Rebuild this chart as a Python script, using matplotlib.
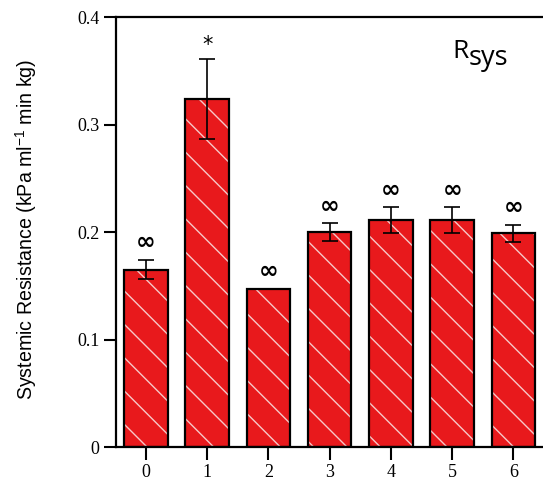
import numpy as np
import matplotlib.pyplot as plt

# mean systemic resistance per time point, with SEM
time_points = ["0", "1", "2", "3", "4", "5", "6"]
r_sys = [0.165, 0.324, 0.147, 0.200, 0.211, 0.211, 0.199]
r_sem = [0.009, 0.037, 0.0, 0.008, 0.012, 0.012, 0.008]
marks = ["∞", "*", "∞", "∞", "∞", "∞", "∞"]

x = np.arange(len(time_points))
red = "#e8191c"

fig = plt.figure(figsize=(5.43, 4.88), dpi=100)
# axes run past the right edge of the figure
ax = fig.add_axes([0.2136, 0.084, 0.90, 0.881])

plt.rcParams["hatch.linewidth"] = 1.0
ax.bar(x, r_sys, width=0.71, color=red, edgecolor="#f7c8c8",
       hatch="\\", linewidth=0, zorder=2)
ax.bar(x, r_sys, width=0.71, fill=False, edgecolor="black",
       linewidth=1.6, zorder=3)
ax.errorbar(x, r_sys, yerr=r_sem, fmt="none", ecolor="black",
            elinewidth=1.2, capsize=6, capthick=1.2, zorder=4)

for xi, yi, ei, m in zip(x, r_sys, r_sem, marks):
    if m == "*":
        ax.annotate(m, (xi, yi + ei), xytext=(0, 3), textcoords="offset points",
                    ha="center", va="bottom", fontsize=15,
                    family="DejaVu Sans")
    else:
        ax.annotate(m, (xi, yi + ei), xytext=(0, 4), textcoords="offset points",
                    ha="center", va="bottom", fontsize=17,
                    family="DejaVu Sans", fontweight="bold")

ax.set_xlim(-0.49, 7.49)
ax.set_ylim(0, 0.4)
ax.set_xticks(x)
ax.set_xticklabels(time_points)
ax.set_yticks([0, 0.1, 0.2, 0.3, 0.4])
ax.set_yticklabels(["0", "0.1", "0.2", "0.3", "0.4"])
for lab in ax.get_xticklabels() + ax.get_yticklabels():
    lab.set_family("Liberation Serif")
    lab.set_fontsize(13)
ax.tick_params(direction="out", length=9, width=1.5, pad=3)

for s in ["left", "bottom", "top", "right"]:
    ax.spines[s].set_linewidth(1.6)

ax.set_ylabel("Systemic Resistance (kPa ml$^{\\mathregular{-1}}$ min kg)",
              family="Liberation Sans", fontsize=14.1)
ax.yaxis.set_label_coords(-0.158, 0.507)

r_txt = ax.text(5.01, 0.368, "R", family="Open Sans",
                fontsize=19, ha="left", va="center")
ax.annotate("sys", xy=(1.0, 0.25), xycoords=r_txt, family="Open Sans",
            fontsize=19.5, ha="left", va="center")

fig.savefig("out.png", dpi=100)
